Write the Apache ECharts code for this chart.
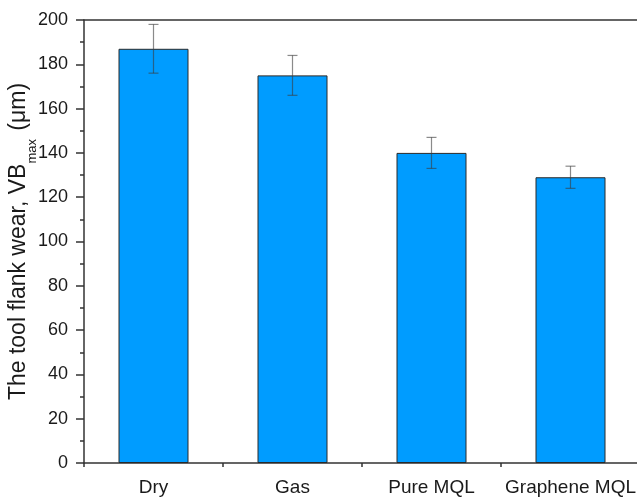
<!DOCTYPE html>
<html>
<head>
<meta charset="utf-8">
<script src="https://cdn.jsdelivr.net/npm/echarts@6/dist/echarts.min.js"></script>
<style>html,body{margin:0;padding:0;background:#fff}#c{width:637px;height:497px}</style>
</head>
<body>
<div id="c"></div>
<script>
var categories = ['Dry', 'Gas', 'Pure MQL', 'Graphene MQL'];
var wearValues = [187, 175, 140, 129];
var wearErrors = [11, 9, 7, 5];
var yTicks = [0, 20, 40, 60, 80, 100, 120, 140, 160, 180, 200];

var chart = echarts.init(document.getElementById('c'), null, {renderer: 'canvas'});
var font = 'Liberation Sans, Arial, sans-serif';
var errData = categories.map(function (c, i) {
  return [i, wearValues[i] - wearErrors[i], wearValues[i] + wearErrors[i]];
});
var axisCol = '#333';
chart.setOption({
  animation: false,
  grid: {left: 84, top: 20, bottom: 34, width: 556, containLabel: false, outerBoundsMode: 'none'},
  xAxis: [{
    type: 'category', data: categories, position: 'bottom',
    axisLine: {lineStyle: {color: axisCol, width: 1.5}},
    axisTick: {alignWithLabel: true, length: 8, lineStyle: {color: axisCol, width: 1.5}},
    axisLabel: {color: '#1a1a1a', fontSize: 19, fontFamily: font, margin: 15, interval: 0, hideOverlap: false}
  }, {
    type: 'category', data: categories, position: 'bottom',
    axisLine: {show: false},
    axisTick: {show: true, length: 4, lineStyle: {color: axisCol, width: 1.5}},
    axisLabel: {show: false}
  }, {
    type: 'category', data: categories, position: 'top',
    axisLine: {lineStyle: {color: axisCol, width: 1.5}},
    axisTick: {show: false}, axisLabel: {show: false}
  }],
  yAxis: {
    type: 'value', min: yTicks[0], max: yTicks[yTicks.length - 1], interval: 20,
    name: '{a|The tool flank wear, VB}{b|max}{a| (μm)}',
    nameLocation: 'middle', nameGap: 52, nameRotate: 90, nameMoveOverlap: false,
    nameTextStyle: {
      rich: {
        a: {fontSize: 23, fontFamily: font, color: '#1a1a1a', lineHeight: 26},
        b: {fontSize: 13, fontFamily: font, color: '#1a1a1a', verticalAlign: 'bottom', lineHeight: 26, padding: [0, 2, -7, 0]}
      }
    },
    axisLine: {show: true, lineStyle: {color: axisCol, width: 1.5}},
    axisTick: {show: true, length: 8, lineStyle: {color: axisCol, width: 1.5}},
    minorTick: {show: true, splitNumber: 2, length: 4, lineStyle: {color: axisCol, width: 1.5}},
    splitLine: {show: false},
    axisLabel: {color: '#1a1a1a', fontSize: 18, fontFamily: font, margin: 16}
  },
  series: [{
    type: 'bar', data: wearValues, barWidth: 70,
    itemStyle: {color: '#009CFF', borderColor: '#2a2a2a', borderWidth: 1}
  }, {
    type: 'custom', data: errData, z: 10,
    renderItem: function (params, api) {
      var x = api.value(0);
      var lo = api.coord([x, api.value(1)]);
      var hi = api.coord([x, api.value(2)]);
      var hw = 5;
      var st = {stroke: 'rgba(60,60,60,0.6)', lineWidth: 1.2};
      return {type: 'group', children: [
        {type: 'line', shape: {x1: lo[0], y1: lo[1], x2: hi[0], y2: hi[1]}, style: st},
        {type: 'line', shape: {x1: lo[0] - hw, y1: lo[1], x2: lo[0] + hw, y2: lo[1]}, style: st},
        {type: 'line', shape: {x1: hi[0] - hw, y1: hi[1], x2: hi[0] + hw, y2: hi[1]}, style: st}
      ]};
    }
  }]
});
</script>
</body>
</html>
